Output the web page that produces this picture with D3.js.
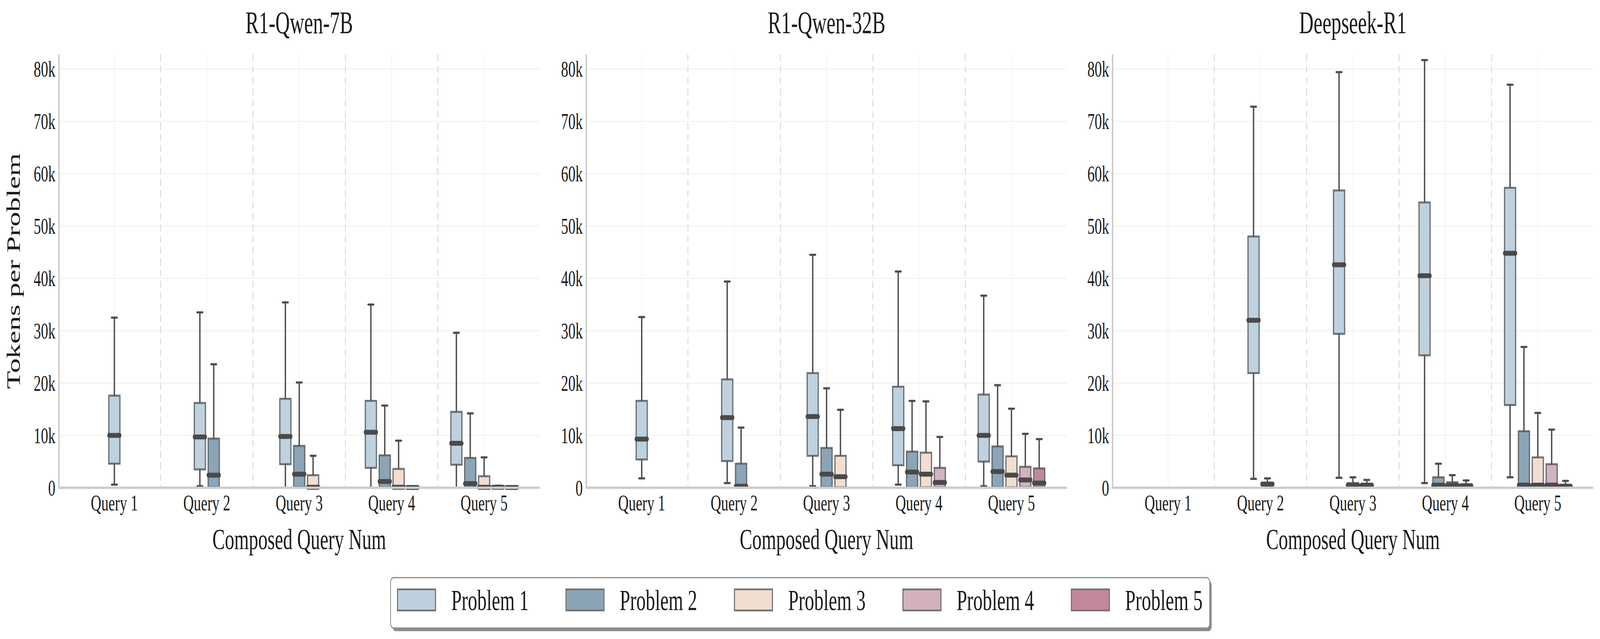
<!DOCTYPE html>
<html>
<head>
<meta charset="utf-8">
<script src="https://cdn.jsdelivr.net/npm/d3@7"></script>
<style>
  html, body { margin: 0; padding: 0; background: #fff; overflow: hidden; }
  svg { display: block; width: 100vw; height: 100vh; }
  text { font-family: "Liberation Serif", "Times New Roman", serif; fill: #1a1a1a; }
</style>
</head>
<body>
<script>
// data (thousands of tokens): per query, one [low, q1, median, q3, high] per problem
var models = ["R1-Qwen-7B", "R1-Qwen-32B", "Deepseek-R1"];
var queries = ["Query 1", "Query 2", "Query 3", "Query 4", "Query 5"];
var problems = ["Problem 1", "Problem 2", "Problem 3", "Problem 4", "Problem 5"];
var colors = ["#bed1de", "#8ba5b6", "#f2ded1", "#d4b1bf", "#c2879b"];
var yTicks = [0, 10, 20, 30, 40, 50, 60, 70, 80];

var qwen7b = [
  [[0.6, 4.6, 10.0, 17.6, 32.5]],
  [[0.3, 3.5, 9.7, 16.2, 33.5], [0, 0.1, 2.4, 9.4, 23.6]],
  [[0, 4.5, 9.8, 17.0, 35.4], [0, 0.1, 2.6, 8.0, 20.1], [0, 0, 0.1, 2.4, 6.1]],
  [[0, 3.8, 10.6, 16.6, 35.0], [0, 0.1, 1.2, 6.2, 15.7], [0, 0, 0.1, 3.6, 9.0], [0, 0, 0.05, 0.1, 0.15]],
  [[0, 4.4, 8.5, 14.5, 29.6], [0, 0.1, 0.8, 5.7, 14.2], [0, 0, 0.1, 2.2, 5.8], [0, 0, 0.1, 0.2, 0.4], [0, 0, 0.05, 0.1, 0.2]]
];
var qwen32b = [
  [[1.8, 5.4, 9.3, 16.6, 32.6]],
  [[0.9, 5.1, 13.4, 20.7, 39.4], [0, 0.1, 0.3, 4.6, 11.5]],
  [[0.3, 6.1, 13.6, 21.9, 44.5], [0, 0.1, 2.6, 7.6, 19.0], [0, 0.1, 2.1, 6.1, 14.9]],
  [[0.6, 4.3, 11.3, 19.3, 41.3], [0, 0.1, 3.0, 6.9, 16.6], [0, 0.1, 2.6, 6.7, 16.5], [0, 0.1, 1.0, 3.8, 9.7]],
  [[0.3, 5.0, 10.0, 17.8, 36.7], [0, 0.1, 3.1, 7.9, 19.6], [0, 0.1, 2.4, 6.0, 15.1], [0, 0.1, 1.5, 4.0, 10.3], [0, 0.1, 0.9, 3.7, 9.3]]
];
var deepseek = [
  [],
  [[1.7, 21.9, 32.0, 48.0, 72.8], [0, 0.3, 0.7, 0.9, 1.8]],
  [[1.9, 29.4, 42.6, 56.8, 79.4], [0, 0.2, 0.5, 0.9, 2.0], [0, 0.2, 0.5, 0.7, 1.5]],
  [[0.9, 25.3, 40.5, 54.5, 81.7], [0, 0.2, 0.5, 2.0, 4.6], [0, 0.2, 0.5, 1.05, 2.4], [0, 0.2, 0.4, 0.55, 1.4]],
  [[2.0, 15.8, 44.8, 57.3, 77.0], [0, 0.2, 0.5, 10.8, 26.9], [0, 0.2, 0.5, 5.8, 14.3], [0, 0.2, 0.5, 4.5, 11.1], [0, 0.1, 0.3, 0.5, 1.3]]
];
var panels = [qwen7b, qwen32b, deepseek];

var W = 6411, H = 1635;
var svg = d3.select("body").append("svg")
    .attr("viewBox", "0 0 " + W + " " + H)
    .attr("preserveAspectRatio", "none");

var panelLeft = [236, 2349, 4458],
    panelW = 1926,
    plotTop = 139, plotBottom = 1248;

var y = d3.scaleLinear().domain([0, 82.8]).range([plotBottom, plotTop]);

panels.forEach(function(data, p) {
  var x = d3.scaleLinear().domain([-0.6, 4.6]).range([panelLeft[p], panelLeft[p] + panelW]);
  var unit = x(1) - x(0);
  var bw = 0.12 * unit;
  var g = svg.append("g");

  // grid
  g.selectAll(".hg").data(yTicks).enter().append("line")
      .attr("x1", x(-0.6)).attr("x2", x(4.6))
      .attr("y1", function(d) { return y(d); }).attr("y2", function(d) { return y(d); })
      .style("stroke", "#f0f0f0").style("stroke-width", 2.5);
  g.selectAll(".vg").data(queries).enter().append("line")
      .attr("x1", function(d, i) { return x(i); }).attr("x2", function(d, i) { return x(i); })
      .attr("y1", plotTop).attr("y2", plotBottom)
      .style("stroke", "#f0f0f0").style("stroke-width", 2.5);
  g.selectAll(".sep").data([0.5, 1.5, 2.5, 3.5]).enter().append("line")
      .attr("x1", function(d) { return x(d); }).attr("x2", function(d) { return x(d); })
      .attr("y1", plotTop).attr("y2", plotBottom)
      .style("stroke", "#d2d2d2").style("stroke-width", 3)
      .style("stroke-dasharray", "18,11");

  // boxes
  data.forEach(function(group, qi) {
    var n = group.length;
    group.forEach(function(s, pi) {
      var cx = x(qi + (pi - (n - 1) / 2) * 0.15);
      var b = g.append("g");
      b.append("line")
          .attr("x1", cx).attr("x2", cx).attr("y1", y(s[3])).attr("y2", y(s[4]))
          .style("stroke", "#4d4d4d").style("stroke-width", 5.5);
      b.append("line")
          .attr("x1", cx).attr("x2", cx).attr("y1", y(s[1])).attr("y2", y(s[0]))
          .style("stroke", "#4d4d4d").style("stroke-width", 5.5);
      [s[0], s[4]].forEach(function(v) {
        b.append("line")
            .attr("x1", cx - bw / 4).attr("x2", cx + bw / 4)
            .attr("y1", y(v)).attr("y2", y(v))
            .style("stroke", "#4d4d4d").style("stroke-width", 5.5)
            .style("stroke-linecap", "round");
      });
      b.append("rect")
          .attr("x", cx - bw / 2).attr("width", bw)
          .attr("y", y(s[3])).attr("height", Math.max(0, y(s[1]) - y(s[3])))
          .style("fill", colors[pi])
          .style("stroke", "rgba(80,84,88,0.8)").style("stroke-width", 5);
      b.append("line")
          .attr("x1", cx - bw / 2).attr("x2", cx + bw / 2)
          .attr("y1", y(s[2])).attr("y2", y(s[2]))
          .style("stroke", "#4a4a4a").style("stroke-width", 12.5)
          .style("stroke-linecap", "round");
    });
  });

  // spines
  g.append("line")
      .attr("x1", x(-0.6)).attr("x2", x(4.6)).attr("y1", plotBottom).attr("y2", plotBottom)
      .style("stroke", "#cccccc").style("stroke-width", 6);
  g.append("line")
      .attr("x1", x(-0.6)).attr("x2", x(-0.6)).attr("y1", plotTop).attr("y2", plotBottom + 3)
      .style("stroke", "#cccccc").style("stroke-width", 6);

  // tick labels
  g.selectAll(".yt").data(yTicks).enter().append("text")
      .attr("x", x(-0.6) - 14).attr("y", function(d) { return y(d); })
      .attr("dy", "0.34em")
      .attr("text-anchor", "end")
      .style("font-size", "58px")
      .text(function(d) { return d === 0 ? "0" : d + "k"; });
  g.selectAll(".xt").data(queries).enter().append("text")
      .attr("x", function(d, i) { return x(i); }).attr("y", 1306)
      .attr("text-anchor", "middle")
      .style("font-size", "58px")
      .text(function(d) { return d; });

  g.append("text")
      .attr("x", panelLeft[p] + panelW / 2).attr("y", 85)
      .attr("text-anchor", "middle")
      .style("font-size", "80px")
      .text(models[p]);
  g.append("text")
      .attr("x", panelLeft[p] + panelW / 2).attr("y", 1405)
      .attr("text-anchor", "middle")
      .style("font-size", "75px")
      .text("Composed Query Num");
});

svg.append("text")
    .attr("transform", "translate(80," + (plotTop + plotBottom) / 2 + ") rotate(-90)")
    .attr("text-anchor", "middle")
    .style("font-size", "75px")
    .text("Tokens per Problem");

// legend
var lx = 1565, ly = 1478, lw = 3282, lh = 129;
svg.append("rect")
    .attr("x", lx + 8).attr("y", ly + 8).attr("width", lw).attr("height", lh)
    .attr("rx", 12)
    .style("fill", "#8c8c8c");
svg.append("rect")
    .attr("x", lx).attr("y", ly).attr("width", lw).attr("height", lh)
    .attr("rx", 12)
    .style("fill", "#fff").style("stroke", "#8a8a8a").style("stroke-width", 3);

var leg = svg.selectAll(".leg").data(problems).enter().append("g")
    .attr("transform", function(d, i) { return "translate(" + (1593 + i * 675) + ",0)"; });
leg.append("rect")
    .attr("x", 0).attr("y", 1508).attr("width", 152).attr("height", 54)
    .style("fill", function(d, i) { return colors[i]; })
    .style("stroke", "#737373").style("stroke-width", 4.5);
leg.append("text")
    .attr("x", 215).attr("y", 1561)
    .style("font-size", "75px")
    .text(function(d) { return d; });
</script>
</body>
</html>
